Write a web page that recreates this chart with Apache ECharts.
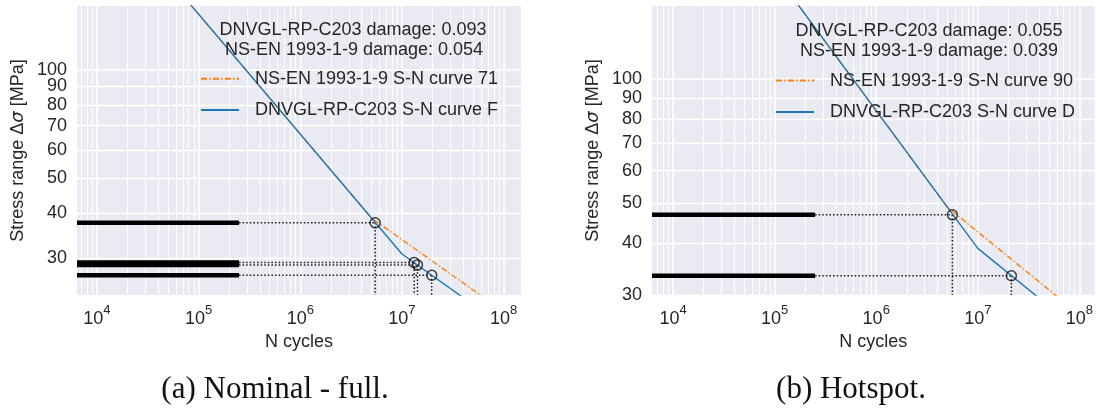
<!DOCTYPE html>
<html><head><meta charset="utf-8">
<script src="https://cdn.jsdelivr.net/npm/echarts@6/dist/echarts.min.js"></script>
<style>html,body{margin:0;padding:0;background:#fff}#c{width:1096px;height:414px}</style>
</head><body><div id="c"></div>
<script>
// ---------- data ----------
const xTickValues = [1e4, 1e5, 1e6, 1e7, 1e8];
const yTickValues = [30, 40, 50, 60, 70, 80, 90, 100];
const xMinorValues = [7e3, 8e3, 9e3,
  2e4, 3e4, 4e4, 5e4, 6e4, 7e4, 8e4, 9e4,
  2e5, 3e5, 4e5, 5e5, 6e5, 7e5, 8e5, 9e5,
  2e6, 3e6, 4e6, 5e6, 6e6, 7e6, 8e6, 9e6,
  2e7, 3e7, 4e7, 5e7, 6e7, 7e7, 8e7, 9e7];

// (a) Nominal - full
const xRangeA = [6380, 1.48e8];
const yRangeA = [23.7, 150.6];
const histEndA = 2.5e5;
const stressA = [37.6, 29.2, 28.7, 26.9];
const cyclesA = [5.45e6, 1.32e7, 1.42e7, 1.96e7];
const dnvCurveA = [[8e4, 154], [1e7, 30.8], [4e7, 23.3]];
const ecCurveA = [[8e4, 154], [5e6, 38.8], [6e7, 23.6]];
const dnvNameA = 'DNVGL-RP-C203 S-N curve F';
const ecNameA = 'NS-EN 1993-1-9 S-N curve 71';
const dnvDamageA = '0.093';
const ecDamageA = '0.054';

// (b) Hotspot
const xRangeB = [6200, 1.41e8];
const yRangeB = [30, 150.3];
const histEndB = 2.5e5;
const stressB = [46.9, 33.4];
const cyclesB = [5.62e6, 2.14e7];
const dnvCurveB = [[1.6e5, 154.4], [1e7, 38.9], [4e7, 29.5]];
const ecCurveB = [[1.6e5, 154.4], [5e6, 49.0], [6e7, 29.8]];
const dnvNameB = 'DNVGL-RP-C203 S-N curve D';
const ecNameB = 'NS-EN 1993-1-9 S-N curve 90';
const dnvDamageB = '0.055';
const ecDamageB = '0.039';

// ---------- styling ----------
const TXT = '#262626';
const BG = '#EAEAF2';
const FONT = 'Liberation Sans, Arial, sans-serif';
const BLUE = '#1f77b4';
const ORANGE = '#ff7f0e';

function xAxisDef(idx, range) {
  return {
    type: 'log', logBase: 10, gridIndex: idx, min: range[0], max: range[1],
    name: 'N cycles', nameLocation: 'middle', nameGap: 37,
    nameTextStyle: {fontSize: 18, color: TXT, fontFamily: FONT},
    axisLine: {show: false}, axisTick: {show: false}, splitLine: {show: false},
    minorSplitLine: {show: false},
    axisLabel: {
      customValues: xTickValues, margin: 9, color: TXT, fontFamily: FONT,
      hideOverlap: false,
      formatter: v => '{b|10}{s|' + Math.round(Math.log10(v)) + '}',
      rich: {
        b: {fontSize: 18, lineHeight: 24, verticalAlign: 'bottom', color: TXT, fontFamily: FONT},
        s: {fontSize: 13, lineHeight: 13, verticalAlign: 'top', color: TXT, fontFamily: FONT}
      }
    }
  };
}
function yAxisDef(idx, range) {
  // top label listed first so that the min/max overlap check never drops a label
  const labelValues = [yTickValues[yTickValues.length - 1]].concat(yTickValues.slice(0, -1));
  return {
    type: 'log', logBase: 10, gridIndex: idx, min: range[0], max: range[1],
    name: 'Stress range Δ{i|σ} [MPa]', nameLocation: 'middle', nameGap: 50,
    nameTextStyle: {fontSize: 18, color: TXT, fontFamily: FONT,
      rich: {i: {fontSize: 18, fontStyle: 'italic', color: TXT, fontFamily: 'DejaVu Sans'}}},
    axisLine: {show: false}, axisTick: {show: false}, splitLine: {show: false},
    axisLabel: {customValues: labelValues, margin: 10, fontSize: 18, lineHeight: 12,
      color: TXT, fontFamily: FONT, hideOverlap: false}
  };
}

function gridSeries(idx, xr, yr) {
  const lines = [];
  xMinorValues.filter(v => v > xr[0] && v < xr[1]).forEach(v => lines.push({xAxis: v, lineStyle: {width: 0.9}}));
  xTickValues.filter(v => v > xr[0] && v < xr[1]).forEach(v => lines.push({xAxis: v, lineStyle: {width: 1.6}}));
  yTickValues.filter(v => v >= yr[0] && v <= yr[1]).forEach(v => lines.push({yAxis: v, lineStyle: {width: v === 100 ? 1.6 : 1.3}}));
  return {
    type: 'line', xAxisIndex: idx, yAxisIndex: idx, data: [], silent: true, z: 1,
    markLine: {silent: true, symbol: ['none', 'none'], z: 1, animation: false,
      label: {show: false}, emphasis: {disabled: true},
      lineStyle: {color: '#ffffff', type: 'solid', width: 1}, data: lines}
  };
}

function panelSeries(idx, xr, yr, histEnd, stress, cycles, ecCurve, dnvCurve, ecName, dnvName) {
  const s = [gridSeries(idx, xr, yr)];
  // stress-range bars (thick black lines)
  stress.forEach(v => s.push({
    type: 'line', xAxisIndex: idx, yAxisIndex: idx, data: [[xr[0], v], [histEnd, v]],
    symbol: 'none', lineStyle: {color: '#000', width: 4.5}, z: 3, silent: true
  }));
  // dotted guides
  stress.forEach((v, i) => {
    s.push({type: 'line', xAxisIndex: idx, yAxisIndex: idx, data: [[histEnd, v], [cycles[i], v]],
      symbol: 'none', lineStyle: {color: '#1a1a1a', width: 1.5, type: [1.5, 2.1]}, z: 3, silent: true});
    s.push({type: 'line', xAxisIndex: idx, yAxisIndex: idx, data: [[cycles[i], v], [cycles[i], yr[0]]],
      symbol: 'none', lineStyle: {color: '#1a1a1a', width: 1.5, type: [1.5, 2.1]}, z: 3, silent: true});
  });
  s.push({name: ecName, type: 'line', xAxisIndex: idx, yAxisIndex: idx, data: ecCurve,
    symbol: 'none', showSymbol: false, lineStyle: {color: ORANGE, width: 1.4, type: [6, 2.2, 1.5, 2.2]},
    itemStyle: {color: ORANGE}, z: 4, silent: true});
  s.push({name: dnvName, type: 'line', xAxisIndex: idx, yAxisIndex: idx, data: dnvCurve,
    symbol: 'none', showSymbol: false, lineStyle: {color: BLUE, width: 1.4},
    itemStyle: {color: BLUE}, z: 5, silent: true});
  s.push({type: 'scatter', xAxisIndex: idx, yAxisIndex: idx,
    data: cycles.map((c, i) => [c, stress[i]]), symbol: 'circle', symbolSize: 10,
    itemStyle: {color: 'rgba(0,0,0,0)', borderColor: '#111', borderWidth: 1.5}, z: 6, silent: true});
  return s;
}

const legendCommon = {
  orient: 'vertical', padding: 0, itemWidth: 38, itemHeight: 14, itemGap: 13.3,
  selectedMode: false, z: 20,
  itemStyle: {opacity: 0},
  textStyle: {fontSize: 18, lineHeight: 14, color: TXT, fontFamily: FONT, padding: [0, 0, 0, 11]}
};

function txt(x, y, text, font, fill) {
  return {type: 'text', x: x, y: y, z: 100, zlevel: 0,
    style: {text: text, font: font, fill: fill, textAlign: 'center', textVerticalAlign: 'middle'}};
}

const chart = echarts.init(document.getElementById('c'), null, {renderer: 'canvas'});
chart.setOption({
  animation: false,
  backgroundColor: '#ffffff',
  grid: [
    {left: 77, top: 6, width: 444, height: 289, show: true, backgroundColor: BG, borderWidth: 0},
    {left: 652, top: 6, width: 443, height: 289, show: true, backgroundColor: BG, borderWidth: 0}
  ],
  xAxis: [xAxisDef(0, xRangeA), xAxisDef(1, xRangeB)],
  yAxis: [yAxisDef(0, yRangeA), yAxisDef(1, yRangeB)],
  legend: [
    Object.assign({}, legendCommon, {data: [ecNameA, dnvNameA], left: 200, top: 69.7}),
    Object.assign({}, legendCommon, {data: [ecNameB, dnvNameB], left: 775, top: 71.6})
  ],
  graphic: [
    txt(353, 30, 'DNVGL-RP-C203 damage: ' + dnvDamageA, '18px ' + FONT, TXT),
    txt(354, 50, 'NS-EN 1993-1-9 damage: ' + ecDamageA, '18px ' + FONT, TXT),
    txt(929, 31, 'DNVGL-RP-C203 damage: ' + dnvDamageB, '18px ' + FONT, TXT),
    txt(929, 51, 'NS-EN 1993-1-9 damage: ' + ecDamageB, '18px ' + FONT, TXT),
    txt(275, 390, '(a) Nominal - full.', '31px "Liberation Serif", serif', '#111'),
    txt(851, 390, '(b) Hotspot.', '31px "Liberation Serif", serif', '#111')
  ],
  series: [].concat(
    panelSeries(0, xRangeA, yRangeA, histEndA, stressA, cyclesA, ecCurveA, dnvCurveA, ecNameA, dnvNameA),
    panelSeries(1, xRangeB, yRangeB, histEndB, stressB, cyclesB, ecCurveB, dnvCurveB, ecNameB, dnvNameB)
  )
});
</script></body></html>
